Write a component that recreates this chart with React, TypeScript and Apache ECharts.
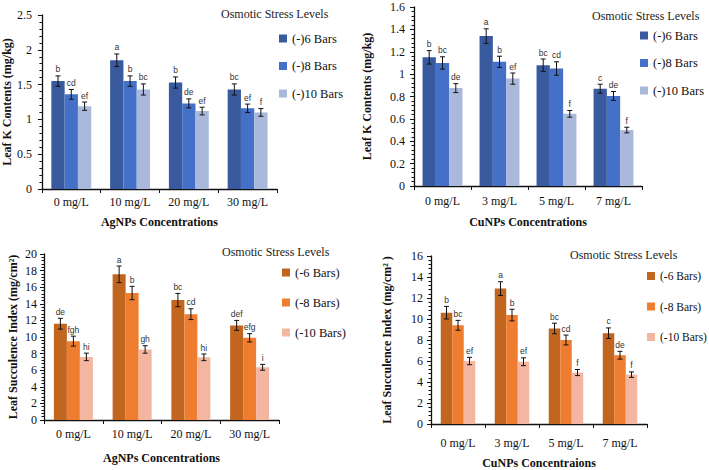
import React, { useEffect, useRef } from "react";
import * as echarts from "echarts";

// ---------- data ----------
const agCategories = ["0 mg/L", "10 mg/L", "20 mg/L", "30 mg/L"];
const cuCategories = ["0 mg/L", "3 mg/L", "5 mg/L", "7 mg/L"];
const kSeriesNames = ["(-)6 Bars", "(-)8 Bars", "(-)10 Bars"];
const lsiSeriesNames = ["(-6 Bars)", "(-8 Bars)", "(-10 Bars)"];

// Leaf K, AgNPs
const agK6 = [1.55, 1.85, 1.53, 1.43];
const agK8 = [1.36, 1.55, 1.23, 1.16];
const agK10 = [1.19, 1.43, 1.12, 1.1];
const agK6Err = [0.075, 0.09, 0.08, 0.08];
const agK8Err = [0.07, 0.075, 0.065, 0.06];
const agK10Err = [0.06, 0.08, 0.055, 0.055];
const agK6Letters = ["b", "a", "b", "bc"];
const agK8Letters = ["cd", "b", "de", "ef"];
const agK10Letters = ["ef", "bc", "ef", "f"];

// Leaf K, CuNPs
const cuK6 = [1.15, 1.34, 1.08, 0.87];
const cuK8 = [1.1, 1.11, 1.05, 0.805];
const cuK10 = [0.875, 0.96, 0.645, 0.5];
const cuK6Err = [0.06, 0.065, 0.055, 0.04];
const cuK8Err = [0.055, 0.05, 0.06, 0.04];
const cuK10Err = [0.04, 0.05, 0.03, 0.025];
const cuK6Letters = ["b", "a", "bc", "c"];
const cuK8Letters = ["bc", "b", "cd", "de"];
const cuK10Letters = ["de", "ef", "f", "f"];

// Leaf succulence index, AgNPs
const agL6 = [11.6, 17.55, 14.45, 11.4];
const agL8 = [9.5, 15.3, 12.75, 9.9];
const agL10 = [7.6, 8.5, 7.55, 6.35];
const agL6Err = [0.65, 1.0, 0.8, 0.6];
const agL8Err = [0.6, 0.8, 0.65, 0.5];
const agL10Err = [0.45, 0.45, 0.4, 0.35];
const agL6Letters = ["de", "a", "bc", "def"];
const agL8Letters = ["fgh", "b", "cd", "efg"];
const agL10Letters = ["hi", "gh", "hi", "i"];

// Leaf succulence index, CuNPs
const cuL6 = [10.6, 12.9, 9.1, 8.65];
const cuL8 = [9.4, 10.38, 8.0, 6.55];
const cuL10 = [6.0, 5.93, 4.9, 4.7];
const cuL6Err = [0.6, 0.65, 0.5, 0.5];
const cuL8Err = [0.47, 0.55, 0.47, 0.37];
const cuL10Err = [0.35, 0.37, 0.29, 0.26];
const cuL6Letters = ["b", "a", "bc", "c"];
const cuL8Letters = ["bc", "b", "cd", "de"];
const cuL10Letters = ["ef", "ef", "f", "f"];

// ---------- styles ----------
const blueColors = ["#3a5aa0", "#4470c8", "#aab8dc"];
const orangeColors = ["#c2651e", "#ee7d2f", "#f4b6a0"];
const SERIF = '"Liberation Serif", "Times New Roman", serif';
const SANS = '"Liberation Sans", Arial, sans-serif';

const panels = [
  {
    cats: agCategories, names: kSeriesNames,
    values: [agK6, agK8, agK10], errors: [agK6Err, agK8Err, agK10Err],
    letters: [agK6Letters, agK8Letters, agK10Letters],
    colors: blueColors, yMax: 2.5, yInterval: 0.5,
    yName: "Leaf K Contents (mg/kg)", xName: "AgNPs Concentrations",
    grid: { left: 39, top: 15, width: 238, height: 174 },
    yNameGap: 25.5, xNameGap: 27, xLabelMargin: 7, yLabelMargin: 10, barWidth: 13.3,
    legendLeft: 279, legendTop: 32, legendGap: 14.5, legendFont: 12.5, titleX: 221, titleY: 14,
  },
  {
    cats: cuCategories, names: kSeriesNames,
    values: [cuK6, cuK8, cuK10], errors: [cuK6Err, cuK8Err, cuK10Err],
    letters: [cuK6Letters, cuK8Letters, cuK10Letters],
    colors: blueColors, yMax: 1.6, yInterval: 0.2,
    yName: "Leaf K Contents (mg/kg)", xName: "CuNPs Concentrations",
    grid: { left: 414, top: 7, width: 228, height: 179 },
    yNameGap: 41, xNameGap: 30, xLabelMargin: 9, yLabelMargin: 9, barWidth: 13.3,
    legendLeft: 640, legendTop: 29, legendGap: 14.5, legendFont: 12.5, titleX: 592, titleY: 16,
  },
  {
    cats: agCategories, names: lsiSeriesNames,
    values: [agL6, agL8, agL10], errors: [agL6Err, agL8Err, agL10Err],
    letters: [agL6Letters, agL8Letters, agL10Letters],
    colors: orangeColors, yMax: 20, yInterval: 2,
    yName: "Leaf Succulence Index (mg/cm²)", xName: "AgNPs Concentrations",
    grid: { left: 44, top: 254, width: 235, height: 166 },
    yNameGap: 25.5, xNameGap: 31.5, xLabelMargin: 8, yLabelMargin: 7, barWidth: 13,
    legendLeft: 282, legendTop: 266, legendGap: 17, legendFont: 12.5, titleX: 222, titleY: 252,
  },
  {
    cats: cuCategories, names: lsiSeriesNames,
    values: [cuL6, cuL8, cuL10], errors: [cuL6Err, cuL8Err, cuL10Err],
    letters: [cuL6Letters, cuL8Letters, cuL10Letters],
    colors: orangeColors, yMax: 16, yInterval: 2,
    yName: "Leaf Succulence Index (mg/cm² )", xName: "CuNPs Concentraions",
    grid: { left: 431, top: 256, width: 216, height: 170 },
    yNameGap: 38, xNameGap: 33, xLabelMargin: 13, yLabelMargin: 8, barWidth: 11.5,
    legendLeft: 647, legendTop: 270, legendGap: 18.5, legendFont: 11.5, titleX: 570, titleY: 255,
  },
];

function buildOption() {
  const grid: any[] = [];
  const xAxis: any[] = [];
  const yAxis: any[] = [];
  const legend: any[] = [];
  const series: any[] = [];
  const graphic: any[] = [];

  panels.forEach((p, pi) => {
    grid.push({ ...p.grid, containLabel: false });
    xAxis.push({
      type: "category", gridIndex: pi, data: p.cats, boundaryGap: true,
      axisLine: { show: true, lineStyle: { color: "#111", width: 1.3 } },
      axisTick: { show: true, length: 4, lineStyle: { color: "#111" } },
      axisLabel: { fontFamily: SERIF, fontSize: 12, color: "#111", margin: p.xLabelMargin },
      splitLine: { show: false },
      name: p.xName, nameLocation: "middle", nameGap: p.xNameGap,
      nameTextStyle: { fontFamily: SERIF, fontWeight: "bold", fontSize: 12, color: "#111" },
    });
    yAxis.push({
      type: "value", gridIndex: pi, min: 0, max: p.yMax, interval: p.yInterval,
      axisLine: { show: true, lineStyle: { color: "#111", width: 1.3 } },
      axisTick: { show: true, length: 4, lineStyle: { color: "#111" } },
      minorTick: { show: true, splitNumber: 5, length: 2.5, lineStyle: { color: "#111" } },
      splitLine: { show: false },
      axisLabel: { fontFamily: SERIF, fontSize: 12, color: "#111", margin: p.yLabelMargin },
      name: p.yName, nameLocation: "middle", nameGap: p.yNameGap,
      nameTextStyle: { fontFamily: SERIF, fontWeight: "bold", fontSize: 12, color: "#111" },
    });
    legend.push({
      orient: "vertical", left: p.legendLeft, top: p.legendTop,
      itemWidth: 8, itemHeight: 8, itemGap: p.legendGap, icon: "rect",
      selectedMode: false, data: p.names, padding: 0,
      textStyle: { fontFamily: SERIF, fontSize: p.legendFont, color: "#111" },
    });
    graphic.push({
      type: "text", x: p.titleX, y: p.titleY,
      style: { text: "Osmotic Stress Levels", fontFamily: SERIF, fontSize: 12, fill: "#222", verticalAlign: "middle" },
    });

    p.names.forEach((name, si) => {
      series.push({
        type: "bar", name, xAxisIndex: pi, yAxisIndex: pi,
        data: p.values[si], barWidth: p.barWidth, barGap: "0%",
        itemStyle: { color: p.colors[si] },
      });
    });
    p.names.forEach((name, si) => {
      const offset = (si - 1) * p.barWidth;
      const letters = p.letters[si];
      series.push({
        type: "custom", name: name + " err", xAxisIndex: pi, yAxisIndex: pi,
        z: 5, clip: false,
        data: p.values[si].map((v, i) => [i, v, p.errors[si][i]]),
        renderItem: (params: any, api: any) => {
          const ci = api.value(0), v = api.value(1), e = api.value(2);
          const c = api.coord([ci, v]);
          const x = c[0] + offset;
          const yTop = api.coord([ci, v + e])[1];
          const yBot = api.coord([ci, v - e])[1];
          const cap = 2.5;
          const ls = { stroke: "#111", lineWidth: 1 };
          return {
            type: "group",
            children: [
              { type: "line", shape: { x1: x, y1: yTop, x2: x, y2: yBot }, style: ls },
              { type: "line", shape: { x1: x - cap, y1: yTop, x2: x + cap, y2: yTop }, style: ls },
              { type: "line", shape: { x1: x - cap, y1: yBot, x2: x + cap, y2: yBot }, style: ls },
              {
                type: "text",
                style: {
                  text: letters[params.dataIndex], x, y: yTop - 2,
                  align: "center", verticalAlign: "bottom",
                  fontFamily: SANS, fontSize: 8.5, fill: "#333",
                },
              },
            ],
          };
        },
      });
    });
  });

  return { animation: false, backgroundColor: "#fff", grid, xAxis, yAxis, legend, series, graphic };
}

export default function App() {
  const ref = useRef<HTMLDivElement>(null);
  useEffect(() => {
    if (!ref.current) return;
    const chart = echarts.init(ref.current, undefined, { renderer: "svg" });
    chart.setOption(buildOption() as any);
    return () => chart.dispose();
  }, []);
  return (
    <div
      ref={ref}
      style={{ position: "absolute", left: 0, top: 0, width: 709, height: 470, background: "#fff" }}
    />
  );
}
